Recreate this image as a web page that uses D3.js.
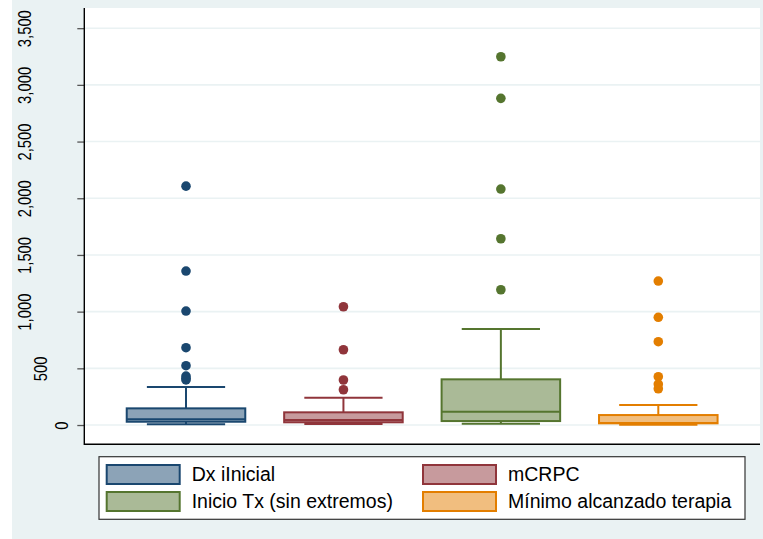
<!DOCTYPE html>
<html>
<head>
<meta charset="utf-8">
<script src="https://cdn.jsdelivr.net/npm/d3@7/dist/d3.min.js"></script>
<style>
  html, body { margin: 0; padding: 0; background: #ffffff; }
  svg { display: block; font-family: "Liberation Sans", Arial, sans-serif; }
</style>
</head>
<body>
<script>
// Box plot summaries per group
const groups      = ["Dx iInicial", "mCRPC", "Inicio Tx (sin extremos)", "Mínimo alcanzado terapia"];
const lowerWhisk  = [6, 9, 11, 2];
const quart1      = [29, 24, 35, 15];
const medians     = [50, 44, 117, 18];
const quart3      = [147, 112, 403, 88];
const upperWhisk  = [335, 241, 847, 176];
const outliers    = [
  [2107, 1358, 1005, 682, 523, 432, 412, 398],
  [1043, 664, 397, 311],
  [3248, 2881, 2081, 1643, 1193],
  [1270, 950, 735, 426, 361, 320]
];
const yTicks      = [0, 500, 1000, 1500, 2000, 2500, 3000, 3500];

const lineColors  = ["#1a476f", "#90353b", "#55752f", "#e37e00"];
const fillColors  = ["#8ca3b7", "#c79a9d", "#aaba97", "#f1be7f"];

const W = 763, H = 539;
const plot = { left: 84.3, right: 760, top: 8, bottom: 444.3 };

const svg = d3.select("body").append("svg")
  .attr("width", W).attr("height", H);

// graph region background
svg.append("rect").attr("x", 12).attr("y", 0)
  .attr("width", W - 12).attr("height", H).attr("fill", "#eaf2f3");

// plot region
svg.append("rect").attr("x", plot.left).attr("y", plot.top)
  .attr("width", plot.right - plot.left).attr("height", plot.bottom - plot.top)
  .attr("fill", "#ffffff");

const y = d3.scaleLinear().domain([-170, 3678]).range([plot.bottom, plot.top]);
const x = d3.scalePoint().domain(groups).range([plot.left, plot.right]).padding(0.646);
const step = x.step();
const boxW = step * 0.753;
const capW = boxW * 0.66;

// gridlines
svg.append("g").selectAll("line").data(yTicks).join("line")
  .attr("x1", plot.left).attr("x2", plot.right)
  .attr("y1", d => y(d)).attr("y2", d => y(d))
  .attr("stroke", "#eaf2f3").attr("stroke-width", 1.6);

// y axis: vertical tick labels, glyphs slightly stretched
const labelStretch = 1.25;
const yAxis = d3.axisLeft(y).tickValues(yTicks).tickSize(7).tickPadding(0)
  .tickFormat(d3.format(","));
const gy = svg.append("g").attr("transform", `translate(${plot.left},0)`).call(yAxis);
gy.select(".domain").remove();
gy.selectAll(".tick line").attr("stroke", "#555").attr("stroke-width", 1.3);
gy.selectAll(".tick text")
  .attr("font-size", 14.8)
  .attr("fill", "#000")
  .attr("text-anchor", "middle")
  .attr("dy", 0)
  .attr("x", 0)
  .each(function () {
    const t = d3.select(this);
    const w = this.getComputedTextLength();
    const cx = 72.2 - 1.3 * w - plot.left;
    const half = 0.716 * 14.8 * labelStretch / 2;
    t.attr("transform", `translate(${cx + half},0) rotate(-90) scale(1,${labelStretch})`);
  });

// axis lines
svg.append("line").attr("x1", plot.left).attr("x2", plot.left)
  .attr("y1", plot.top).attr("y2", plot.bottom + 0.6)
  .attr("stroke", "#000").attr("stroke-width", 1.4);
svg.append("line").attr("x1", plot.left).attr("x2", plot.right)
  .attr("y1", plot.bottom).attr("y2", plot.bottom)
  .attr("stroke", "#000").attr("stroke-width", 1.4);

// boxes
groups.forEach((g, i) => {
  const cx = x(g);
  const grp = svg.append("g");
  const sw = 2;
  // whisker stems
  grp.append("line").attr("x1", cx).attr("x2", cx)
    .attr("y1", y(quart3[i])).attr("y2", y(upperWhisk[i]))
    .attr("stroke", lineColors[i]).attr("stroke-width", sw);
  grp.append("line").attr("x1", cx).attr("x2", cx)
    .attr("y1", y(quart1[i])).attr("y2", y(lowerWhisk[i]))
    .attr("stroke", lineColors[i]).attr("stroke-width", sw);
  // caps
  [upperWhisk[i], lowerWhisk[i]].forEach(v => {
    grp.append("line").attr("x1", cx - capW / 2).attr("x2", cx + capW / 2)
      .attr("y1", y(v)).attr("y2", y(v))
      .attr("stroke", lineColors[i]).attr("stroke-width", sw);
  });
  // box
  grp.append("rect")
    .attr("x", cx - boxW / 2).attr("width", boxW)
    .attr("y", y(quart3[i])).attr("height", y(quart1[i]) - y(quart3[i]))
    .attr("fill", fillColors[i]).attr("stroke", lineColors[i]).attr("stroke-width", sw);
  // median
  grp.append("line").attr("x1", cx - boxW / 2).attr("x2", cx + boxW / 2)
    .attr("y1", y(medians[i])).attr("y2", y(medians[i]))
    .attr("stroke", lineColors[i]).attr("stroke-width", sw);
  // outliers
  grp.selectAll("circle").data(outliers[i]).join("circle")
    .attr("cx", cx).attr("cy", d => y(d)).attr("r", 4.8)
    .attr("fill", lineColors[i]);
});

// legend
const leg = svg.append("g");
leg.append("rect").attr("x", 99).attr("y", 456.7).attr("width", 646).attr("height", 62.6)
  .attr("fill", "#fff").attr("stroke", "#333").attr("stroke-width", 1.2);
const colX = [106.7, 423];
const rowY = [465, 492];
groups.forEach((g, i) => {
  const kx = colX[i % 2], ky = rowY[Math.floor(i / 2)];
  leg.append("rect").attr("x", kx).attr("y", ky).attr("width", 73).attr("height", 19)
    .attr("fill", fillColors[i]).attr("stroke", lineColors[i]).attr("stroke-width", 2);
  leg.append("text").attr("x", kx + 85).attr("y", ky + 16)
    .attr("font-size", 19.5).attr("fill", "#000").text(g);
});
</script>
</body>
</html>
